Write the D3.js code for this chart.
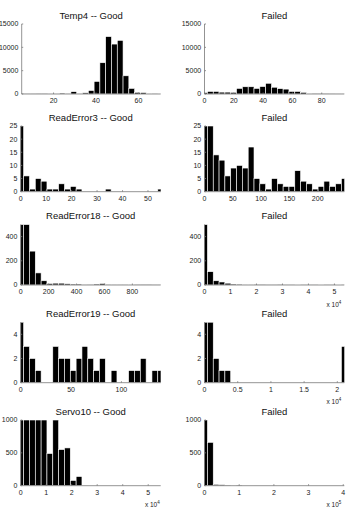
<!DOCTYPE html>
<html>
<head>
<meta charset="utf-8">
<script src="https://d3js.org/d3.v7.min.js"></script>
<style>
    body { margin: 0; background: #fff; }
    text { font-family: "Liberation Sans", Arial, Helvetica, sans-serif; }
    text.title { font-size: 9.5px; fill: #111; text-anchor: middle; }
    text.tick { font-size: 7px; fill: #222; }
    text.expo { font-size: 6.5px; fill: #222; text-anchor: end; }
    line.axis { stroke: #777; stroke-width: 0.8px; }
    rect.bar { fill: #000; stroke: #fff; stroke-width: 0.6px; }
</style>
</head>
<body>
<svg id="chart" width="353" height="510"></svg>
<script>
// histogram counts, 25 bins spread between min and max of each sample
var variables = ["Temp4", "ReadError3", "ReadError18", "ReadError19", "Servo10"];

var temp4Good = [40, 30, 30, 50, 50, 80, 100, 200, 150, 500, 120, 250, 750, 2700, 6700, 12300, 10700, 11500, 3900, 1200, 350, 300, 100, 30, 10];
var temp4Failed = [300, 550, 550, 400, 400, 350, 1200, 1550, 1550, 1200, 1600, 2300, 1450, 1150, 1050, 550, 550, 350, 100, 60, 50, 40, 30, 20, 20];
var readError3Good = [25, 6, 1, 5, 4, 1, 1, 3, 1, 2, 1, 0, 0, 0, 0, 1, 0, 0, 0, 0, 0, 0, 0, 0, 1];
var readError3Failed = [25, 25, 14, 12, 6, 9, 10, 9, 17, 5, 3, 1, 5, 3, 2, 2, 8, 4, 3, 1, 2, 4, 2, 3, 5];
var readError18Good = [500, 500, 280, 100, 35, 12, 15, 15, 10, 8, 8, 5, 6, 8, 12, 6, 5, 5, 5, 3, 2, 2, 2, 1, 1];
var readError18Failed = [500, 110, 35, 25, 15, 8, 7, 3, 3, 2, 2, 1, 1, 2, 1, 1, 0, 1, 1, 1, 0, 1, 1, 0, 1];
var readError19Good = [5, 3, 2, 1, 0, 0, 3, 2, 2, 1, 2, 3, 2, 1, 2, 0, 1, 0, 0, 1, 1, 2, 0, 1, 1];
var readError19Failed = [5, 5, 2, 1, 1, 0, 0, 0, 0, 0, 0, 0, 0, 0, 0, 0, 0, 0, 0, 0, 0, 0, 0, 0, 3];
var servo10Good = [1000, 1000, 1000, 1000, 1000, 490, 1000, 550, 575, 80, 140, 3, 2, 2, 1, 1, 1, 0, 1, 0, 0, 1, 0, 0, 1];
var servo10Failed = [1000, 660, 20, 15, 5, 3, 5, 2, 2, 3, 1, 2, 1, 1, 1, 0, 1, 1, 0, 1, 0, 1, 0, 0, 1];

// [min, max] of each sample
var goodRanges = [[5, 70.5], [0, 55], [0, 1003], [0, 139], [0, 54900]];
var failedRanges = [[0, 95.4], [0, 247], [0, 53800], [0, 21050], [0, 403000]];

var yMax = [15000, 25, 500, 5, 1000];
var yTicks = [[0, 5000, 10000, 15000], [0, 5, 10, 15, 20, 25], [0, 200, 400], [0, 2, 4], [0, 500, 1000]];
var xTicksGood = [[20, 40, 60], [0, 10, 20, 30, 40, 50], [0, 200, 400, 600, 800], [0, 50, 100],
                  [0, 10000, 20000, 30000, 40000, 50000]];
var xTicksFailed = [[0, 20, 40, 60, 80], [0, 50, 100, 150, 200], [0, 10000, 20000, 30000, 40000, 50000],
                    [0, 5000, 10000, 15000, 20000], [0, 100000, 200000, 300000, 400000]];
var expGood = [0, 0, 0, 0, 4];
var expFailed = [0, 0, 4, 4, 5];

var goodCounts = [temp4Good, readError3Good, readError18Good, readError19Good, servo10Good];
var failedCounts = [temp4Failed, readError3Failed, readError18Failed, readError19Failed, servo10Failed];

// layout of the 5 rows (pixel positions of each axes box)
var rows = [
    {top: 24, bottom: 94},
    {top: 126, bottom: 191.7},
    {top: 224.5, bottom: 285},
    {top: 322.2, bottom: 382.7},
    {top: 420, bottom: 485.7}
];
var cols = [
    {left: 20.7, right: 160.7, expoPad: 1},
    {left: 204.5, right: 344.3, expoPad: 3}
];

var svg = d3.select("#chart");
var fmt = d3.format("~g");

function panel(ri, ci, title, counts, range, xt, expo) {
    var r = rows[ri], c = cols[ci];
    var left = (ri == 0 && ci == 0) ? 21.7 : c.left;
    var x = d3.scaleLinear().domain(range).range([left, c.right]);
    var y = d3.scaleLinear().domain([0, yMax[ri]]).range([r.bottom, r.top]);
    var n = counts.length;
    var step = (range[1] - range[0]) / (n - 1);

    var g = svg.append("g");
    var clipId = "clip" + ri + "_" + ci;
    g.append("clipPath").attr("id", clipId)
        .append("rect")
        .attr("x", left).attr("y", r.top)
        .attr("width", c.right - left).attr("height", r.bottom - r.top);

    g.append("g").attr("clip-path", "url(#" + clipId + ")")
        .selectAll("rect")
        .data(counts)
        .enter().append("rect")
        .attr("class", "bar")
        .attr("x", function(d, i) { return x(range[0] + (i - 0.5) * step); })
        .attr("width", function() { return x(range[0] + step) - x(range[0]); })
        .attr("y", function(d) { return y(d); })
        .attr("height", function(d) { return y(0) - y(d); });

    // axis lines
    g.append("line").attr("class", "axis")
        .attr("x1", left).attr("x2", left).attr("y1", r.top).attr("y2", r.bottom);
    g.append("line").attr("class", "axis")
        .attr("x1", left).attr("x2", c.right).attr("y1", r.bottom).attr("y2", r.bottom);

    // y ticks
    yTicks[ri].forEach(function(v) {
        g.append("line").attr("class", "axis")
            .attr("x1", left).attr("x2", left + 1.5).attr("y1", y(v)).attr("y2", y(v));
        g.append("text").attr("class", "tick")
            .attr("x", left - 3.3).attr("y", y(v)).attr("dy", "0.35em")
            .attr("text-anchor", "end").text(fmt(v));
    });

    // x ticks
    var div = Math.pow(10, expo);
    xt.forEach(function(v) {
        g.append("line").attr("class", "axis")
            .attr("x1", x(v)).attr("x2", x(v)).attr("y1", r.bottom).attr("y2", r.bottom - 1.5);
        g.append("text").attr("class", "tick")
            .attr("x", x(v)).attr("y", r.bottom + 9.3)
            .attr("text-anchor", "middle").text(fmt(v / div));
    });

    if (expo > 0) {
        var t = g.append("text").attr("class", "expo")
            .attr("x", c.right - c.expoPad).attr("y", r.bottom + 21.5);
        t.append("tspan").text("x 10");
        t.append("tspan").attr("dy", -3).attr("font-size", "4.5px").text(expo);
    }

    g.append("text").attr("class", "title")
        .attr("x", (left + c.right) / 2).attr("y", r.top - 5.5)
        .text(title);
}

variables.forEach(function(v, i) {
    panel(i, 0, v + " -- Good", goodCounts[i], goodRanges[i], xTicksGood[i], expGood[i]);
    panel(i, 1, "Failed", failedCounts[i], failedRanges[i], xTicksFailed[i], expFailed[i]);
});
</script>
</body>
</html>
